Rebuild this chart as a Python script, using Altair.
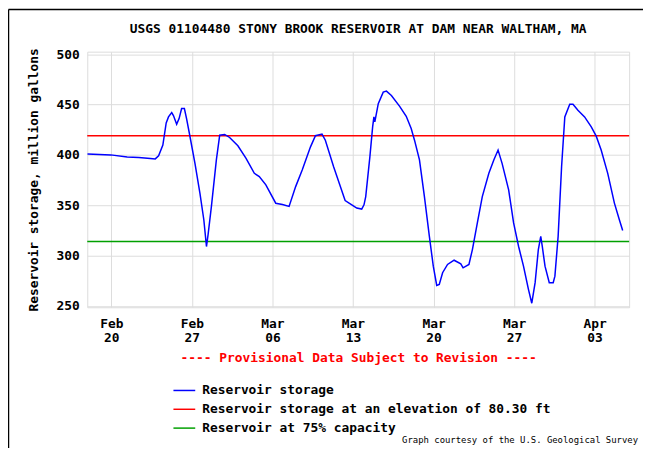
import altair as alt
import pandas as pd

BASE = "2023-02-20"
# days since Feb 20
days = [-2.07, -0.05, 1.38, 2.39, 3.39, 3.82, 4.11, 4.48, 4.77, 4.97,
        5.25, 5.40, 5.68, 5.89, 6.11, 6.35, 6.54, 6.84, 7.27, 7.70,
        8.04, 8.27, 8.41, 8.70, 9.13, 9.42, 9.85, 10.28, 11.00, 11.71,
        12.43, 12.86, 13.43, 14.29, 14.87, 15.45, 16.02, 16.59, 17.31, 17.74,
        18.31, 18.60, 19.32, 20.32, 20.90, 21.33, 21.76, 21.96, 22.11, 22.47,
        22.71, 22.82, 22.90, 23.20, 23.63, 23.91, 24.34, 25.06, 25.63, 26.06,
        26.35, 26.78, 27.21, 27.64, 27.98, 28.28, 28.50, 28.79, 29.22, 29.79,
        30.37, 30.57, 31.08, 31.38, 31.81, 32.24, 32.81, 33.24, 33.61, 33.96,
        34.53, 34.96, 35.39, 35.82, 36.25, 36.54, 36.83, 37.11, 37.32, 37.45,
        37.69, 38.06, 38.40, 38.55, 38.83, 39.13, 39.41, 39.84, 40.12, 40.55,
        41.13, 41.71, 42.14, 42.57, 43.14, 43.72, 44.15, 44.44]
storage = [400.8, 400, 398, 397.5, 396.5, 396, 399, 409.7, 431.7, 437.7,
           442, 439, 430.5, 436, 446, 446, 436, 418, 391.6, 362,
           335.6, 309, 320.8, 348.8, 395, 419.6, 420.3, 417.3, 409, 396.5,
           381.7, 378.4, 370.2, 352, 350.7, 348.8, 368.5, 385, 408, 419,
           420.6, 414.6, 388.3, 354.7, 350.4, 347.2, 346.2, 350.4, 358.6, 398,
           427.8, 437.7, 432.7, 450.9, 462.3, 463.3, 459, 448.2, 438.3, 426.2,
           414.6, 395, 358.6, 319.1, 289.5, 270.4, 271.4, 283, 291.2, 295.4,
           291.8, 287.9, 291.2, 306, 332.4, 358.6, 381.7, 395, 404.8, 391.6,
           365.3, 332.4, 309.3, 289.5, 266.5, 252.7, 273.1, 306, 319.1, 309.3,
           289.5, 273.1, 273.1, 279.6, 319.1, 388.3, 437.7, 450.2, 450.2, 444.3,
           437.7, 427.8, 418.6, 404.8, 381.7, 352.1, 335.6, 325]

series = ["Reservoir storage",
          "Reservoir storage at an elevation of 80.30 ft",
          "Reservoir at 75% capacity"]
colors = ["#0000ff", "#ff0000", "#00a000"]
levels = [419, 314]
tick_dates = [(2, 20), (2, 27), (3, 6), (3, 13), (3, 20), (3, 27), (4, 3)]
y_ticks = [250, 300, 350, 400, 450, 500]

TITLE = "USGS 01104480 STONY BROOK RESERVOIR AT DAM NEAR WALTHAM, MA"
NOTE = "---- Provisional Data Subject to Revision ----"
CREDIT = "Graph courtesy of the U.S. Geological Survey"
FONT = "DejaVu Sans Mono"

times = pd.Timestamp(BASE) + pd.to_timedelta(days, unit="D")
df = pd.DataFrame({"time": times.strftime("%Y-%m-%dT%H:%M:%S"),
                   "storage": storage, "series": series[0]})
ref = pd.DataFrame({"level": levels, "series": series[1:]})

color_scale = alt.Scale(domain=series, range=colors)
legend = alt.Legend(title=None, orient="none", legendX=86, legendY=330,
                    symbolType="stroke", symbolSize=484, symbolStrokeWidth=1.5,
                    labelFont=FONT, labelFontSize=13, labelFontWeight="bold",
                    labelColor="#000000", rowPadding=-5, labelOffset=6, labelLimit=700)

x_enc = alt.X(
    "time:T",
    scale=alt.Scale(domain=[alt.DateTime(year=2023, month=2, date=17, hours=21, minutes=50),
                            alt.DateTime(year=2023, month=4, date=6)]),
    axis=alt.Axis(
        values=[alt.DateTime(year=2023, month=m, date=d) for m, d in tick_dates],
        labelExpr="[timeFormat(datum.value, '%b'), timeFormat(datum.value, '%d')]",
        labelLineHeight=15, labelPadding=10, labelFont=FONT, labelFontSize=13,
        labelFontWeight="bold", labelColor="#000000",
        title=NOTE, titleFont=FONT, titleFontSize=13, titleFontWeight="bold",
        titleColor="#ff0000", titleY=51, titleBaseline="middle",
        grid=True, ticks=False, domain=False),
)
y_enc = alt.Y(
    "storage:Q",
    scale=alt.Scale(domain=[248.7, 502.5], nice=False, zero=False),
    axis=alt.Axis(values=y_ticks, labelPadding=8, labelFont=FONT, labelFontSize=13,
                  labelFontWeight="bold", labelColor="#000000",
                  title="Reservoir storage, million gallons", titleFont=FONT,
                  titleFontSize=13, titleFontWeight="bold", titleColor="#000000",
                  titleX=-54, titleY=129, titleAngle=-90, titleBaseline="middle",
                  grid=True, ticks=False, domain=False),
)

line = alt.Chart(df).mark_line(strokeWidth=1.5).encode(
    x=x_enc, y=y_enc,
    color=alt.Color("series:N", scale=color_scale, legend=legend),
)
rules = alt.Chart(ref).mark_rule(strokeWidth=1.5, opacity=1).encode(
    y="level:Q",
    color=alt.Color("series:N", scale=color_scale, legend=legend),
)
title = alt.Chart(pd.DataFrame({"t": [TITLE]})).mark_text(
    font=FONT, fontSize=13, fontWeight="bold", align="center", baseline="middle",
    color="#000000"
).encode(text="t:N", x=alt.value(273.5), y=alt.value(-23))
credit = alt.Chart(pd.DataFrame({"t": [CREDIT]})).mark_text(
    font=FONT, fontSize=9, align="right", baseline="middle", color="#000000"
).encode(text="t:N", x=alt.value(556), y=alt.value(392))

frame_v = alt.Chart(pd.DataFrame({"a": [0]})).mark_rule(color="#000000", strokeWidth=1.5).encode(
    x=alt.value(-79.5), y=alt.value(-42.5), y2=alt.value(404))
frame_h = alt.Chart(pd.DataFrame({"a": [0]})).mark_rule(color="#000000", strokeWidth=1.5).encode(
    y=alt.value(-42.5), x=alt.value(-79.5), x2=alt.value(563))

chart = alt.layer(rules, line, title, credit, frame_v, frame_h).properties(
    width=547, height=258,
    autosize=alt.AutoSizeParams(type="none"),
    padding={"left": 80, "top": 42, "right": 14, "bottom": 140},
).configure_view(stroke="#333333", strokeWidth=2).configure_axis(
    gridColor="#d0d0d0", gridWidth=1.5
).configure(background="#ffffff")

chart.save("out.html", embed_options={"renderer": "svg", "actions": False})
